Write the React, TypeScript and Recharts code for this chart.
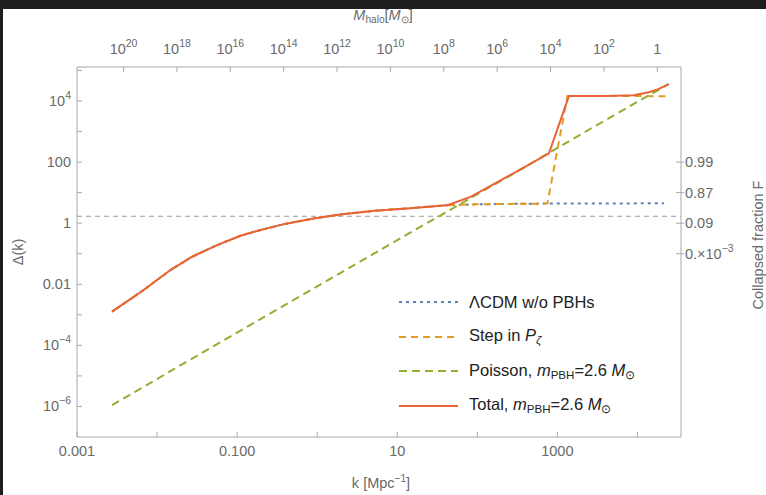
import React from 'react';
import { LineChart, Line, XAxis, YAxis, ReferenceLine, Legend } from 'recharts';

// k [Mpc^-1] and Δ(k)
const lcdmK = [0.00274, 0.0068, 0.0147, 0.0274, 0.0562, 0.11, 0.215, 0.422, 0.907, 1.95, 5.1, 13.3, 42.2, 100, 300, 785, 3000, 21400];
const lcdmDelta = [0.00127, 0.00652, 0.0293, 0.0798, 0.192, 0.388, 0.641, 0.985, 1.43, 1.94, 2.54, 3.05, 3.9, 4.15, 4.3, 4.4, 4.4, 4.5];

const stepK = [0.00274, 0.0068, 0.0147, 0.0274, 0.0562, 0.11, 0.215, 0.422, 0.907, 1.95, 5.1, 13.3, 42.2, 100, 300, 750, 1334, 5000, 22400];
const stepDelta = [0.00127, 0.00652, 0.0293, 0.0798, 0.192, 0.388, 0.641, 0.985, 1.43, 1.94, 2.54, 3.05, 3.9, 4.15, 4.3, 4.4, 14500, 14600, 14400];

const poissonK = [0.00274, 0.0274, 0.274, 2.74, 27.4, 274, 2740, 24600];
const poissonDelta = [1.1e-6, 3.7e-5, 1.2e-3, 0.039, 1.27, 40, 1350, 36000];

const totalK = [0.00274, 0.0068, 0.0147, 0.0274, 0.0562, 0.11, 0.215, 0.422, 0.907, 1.95, 5.1, 13.3, 42.2, 82.4, 178, 379, 785, 1396, 4000, 8990, 13840, 18000, 24600];
const totalDelta = [0.00127, 0.00652, 0.0293, 0.0798, 0.192, 0.388, 0.641, 0.985, 1.43, 1.94, 2.54, 3.05, 3.9, 7.3, 22, 66, 195, 14560, 14600, 15500, 19500, 24000, 36000];

const kTicks = [0.001, 0.01, 0.1, 1, 10, 100, 1000, 10000];
const kTickLabels = ['0.001', '', '0.100', '', '10', '', '1000', ''];
const deltaTicks = [1e-6, 1e-5, 1e-4, 1e-3, 0.01, 0.1, 1, 10, 100, 1000, 1e4, 1e5];
const deltaTickLabels = ['10^−6', '', '10^−4', '', '0.01', '', '1', '', '100', '', '10^4', ''];
const fTicks = [100, 10, 1, 0.1];
const fTickLabels = ['0.99', '0.87', '0.09', '0.×10^−3'];
const mHaloExponents = [20, 18, 16, 14, 12, 10, 8, 6, 4, 2, 0];
const mHaloTickLabels = ['10^20', '10^18', '10^16', '10^14', '10^12', '10^10', '10^8', '10^6', '10^4', '10^2', '1'];

// M_halo ∝ k^-3, M_halo = 1 M_sun at this k
const K_AT_ONE_MSUN = 17700;
const mHaloTicksK = mHaloExponents.map(e => K_AT_ONE_MSUN * Math.pow(10, -e / 3));

const DELTA_C = 1.686;
const legendOrder = ['lcdm', 'step', 'poisson', 'total'];

const toPoints = (ks: number[], ds: number[]) => ks.map((k, i) => ({ k, delta: ds[i] }));

const W = 766;
const H = 495;
const PLOT = { left: 77, right: 681, top: 67, bottom: 437 };
const FONT = '"Liberation Sans", Arial, sans-serif';
const GREY = '#6a6a6a';
const FRAME = '#a8a8a8';

function Label({ label, ...rest }: any) {
    const [base, sup] = label.split('^');
    return (
        <text fill={GREY} fontSize={14.5} fontFamily={FONT} {...rest}>
            {base}
            {sup && <tspan dy={-7} fontSize={10.5}>{sup}</tspan>}
        </text>
    );
}

const BottomTick = ({ x, index }: any) => (
    <g>
        <line x1={x} x2={x} y1={PLOT.bottom} y2={PLOT.bottom - 5} stroke={FRAME} />
        {kTickLabels[index] && <Label label={kTickLabels[index]} x={x} y={PLOT.bottom + 19} textAnchor="middle" />}
    </g>
);

const TopTick = ({ x, index }: any) => (
    <g>
        <line x1={x} x2={x} y1={PLOT.top} y2={PLOT.top + 5} stroke={FRAME} />
        <Label label={mHaloTickLabels[index]} x={x} y={PLOT.top - 13} textAnchor="middle" />
    </g>
);

const LeftTick = ({ y, index }: any) => (
    <g>
        <line x1={PLOT.left} x2={PLOT.left + 5} y1={y} y2={y} stroke={FRAME} />
        {deltaTickLabels[index] && <Label label={deltaTickLabels[index]} x={PLOT.left - 6} y={y + 5} textAnchor="end" />}
    </g>
);

const RightTick = ({ y, index }: any) => (
    <g>
        <line x1={PLOT.right - 5} x2={PLOT.right + 3} y1={y} y2={y} stroke={FRAME} />
        <Label label={fTickLabels[index]} x={PLOT.right + 4} y={y + 5} textAnchor="start" />
    </g>
);

const subStyle: React.CSSProperties = { fontSize: '0.7em', verticalAlign: '-0.3em', lineHeight: 1 };

const seriesLabels: Record<string, React.ReactNode> = {
    lcdm: <>ΛCDM w/o PBHs</>,
    step: <>Step in <i>P</i><span style={subStyle}><i>ζ</i></span></>,
    poisson: <>Poisson, <i>m</i><span style={subStyle}>PBH</span>=2.6 <i>M</i><span style={subStyle}>⊙</span></>,
    total: <>Total, <i>m</i><span style={subStyle}>PBH</span>=2.6 <i>M</i><span style={subStyle}>⊙</span></>,
};

const renderLegend = ({ payload }: any) => {
    const entries = (payload || [])
        .filter((e: any) => legendOrder.includes(e.value))
        .sort((a: any, b: any) => legendOrder.indexOf(a.value) - legendOrder.indexOf(b.value));
    return (
        <div style={{ fontFamily: FONT, fontSize: 16.5, color: '#222' }}>
            {entries.map((entry: any) => (
                <div key={entry.value} style={{ display: 'flex', alignItems: 'center', height: 34.5 }}>
                    <svg width={59} height={6} style={{ marginRight: 11 }}>
                        <line x1={0} x2={59} y1={3} y2={3} stroke={entry.color} strokeWidth={2}
                            strokeDasharray={entry.payload?.strokeDasharray} />
                    </svg>
                    <span style={{ whiteSpace: 'nowrap' }}>{seriesLabels[entry.value]}</span>
                </div>
            ))}
        </div>
    );
};

const titleStyle: React.CSSProperties = {
    position: 'absolute', fontFamily: FONT, fontSize: 14.5, color: GREY, whiteSpace: 'nowrap',
    transform: 'translate(-50%, -50%)', lineHeight: 1,
};

export default function App() {
    const axisProps = {
        type: 'number' as const,
        scale: 'log' as const,
        allowDataOverflow: true,
        interval: 0 as const,
        axisLine: { stroke: FRAME },
        tickLine: false,
    };

    return (
        <div style={{ position: 'absolute', left: 0, top: 0, width: W, height: H, background: '#1e1e1e', overflow: 'hidden' }}>
            <div style={{ position: 'absolute', left: 3, top: 9, right: 0, bottom: 0, background: '#fff' }} />
            <div style={{ position: 'absolute', left: 0, top: 0 }}>
                <LineChart width={W} height={H} margin={{ top: 37, right: 25, bottom: 28, left: 17 }}>
                    <XAxis xAxisId="k" dataKey="k" domain={[0.001, 35000]} ticks={kTicks} tick={<BottomTick />} height={30} {...axisProps} />
                    <XAxis xAxisId="m" dataKey="k" orientation="top" domain={[0.001, 35000]} ticks={mHaloTicksK} tick={<TopTick />} height={30} {...axisProps} />
                    <YAxis yAxisId="d" domain={[1e-7, 1.3e5]} ticks={deltaTicks} tick={<LeftTick />} width={60} {...axisProps} />
                    <YAxis yAxisId="f" orientation="right" domain={[1e-7, 1.3e5]} ticks={fTicks} tick={<RightTick />} width={60} {...axisProps} />
                    <ReferenceLine xAxisId="k" yAxisId="d" y={DELTA_C} stroke="#9a9a9a" strokeDasharray="5 4" strokeWidth={1} />
                    {/* carrier for the M_halo axis, not drawn */}
                    <Line xAxisId="m" yAxisId="d" name="mhalo" data={toPoints(totalK, totalDelta)} dataKey="delta" type="linear"
                        stroke="none" legendType="none" dot={false} activeDot={false} isAnimationActive={false} />
                    <Line xAxisId="k" yAxisId="d" name="lcdm" data={toPoints(lcdmK, lcdmDelta)} dataKey="delta" type="linear"
                        stroke="#5E81B5" strokeWidth={2} strokeDasharray="3 4" dot={false} isAnimationActive={false} />
                    <Line xAxisId="k" yAxisId="d" name="step" data={toPoints(stepK, stepDelta)} dataKey="delta" type="linear"
                        stroke="#E19C24" strokeWidth={2} strokeDasharray="7 5" dot={false} isAnimationActive={false} />
                    <Line xAxisId="k" yAxisId="d" name="poisson" data={toPoints(poissonK, poissonDelta)} dataKey="delta" type="linear"
                        stroke="#8FB032" strokeWidth={2} strokeDasharray="8 5" dot={false} isAnimationActive={false} />
                    <Line xAxisId="k" yAxisId="d" name="total" data={toPoints(totalK, totalDelta)} dataKey="delta" type="linear"
                        stroke="#EB6235" strokeWidth={2} dot={false} isAnimationActive={false} />
                    <Legend layout="vertical" align="center" verticalAlign="middle" content={renderLegend}
                        wrapperStyle={{ left: 399, top: 285, width: 280 }} />
                </LineChart>
            </div>
            <div style={{ ...titleStyle, left: 383, top: 17 }}>
                <i>M</i><span style={subStyle}>halo</span>[<i>M</i><span style={subStyle}>⊙</span>]
            </div>
            <div style={{ ...titleStyle, left: 381, top: 482 }}>
                k [Mpc<sup style={{ fontSize: '0.7em', lineHeight: 1 }}>−1</sup>]
            </div>
            <div style={{ ...titleStyle, left: 18, top: 252, transform: 'translate(-50%, -50%) rotate(-90deg)' }}>Δ(k)</div>
            <div style={{ ...titleStyle, left: 758, top: 245, transform: 'translate(-50%, -50%) rotate(-90deg)' }}>Collapsed fraction F</div>
        </div>
    );
}
